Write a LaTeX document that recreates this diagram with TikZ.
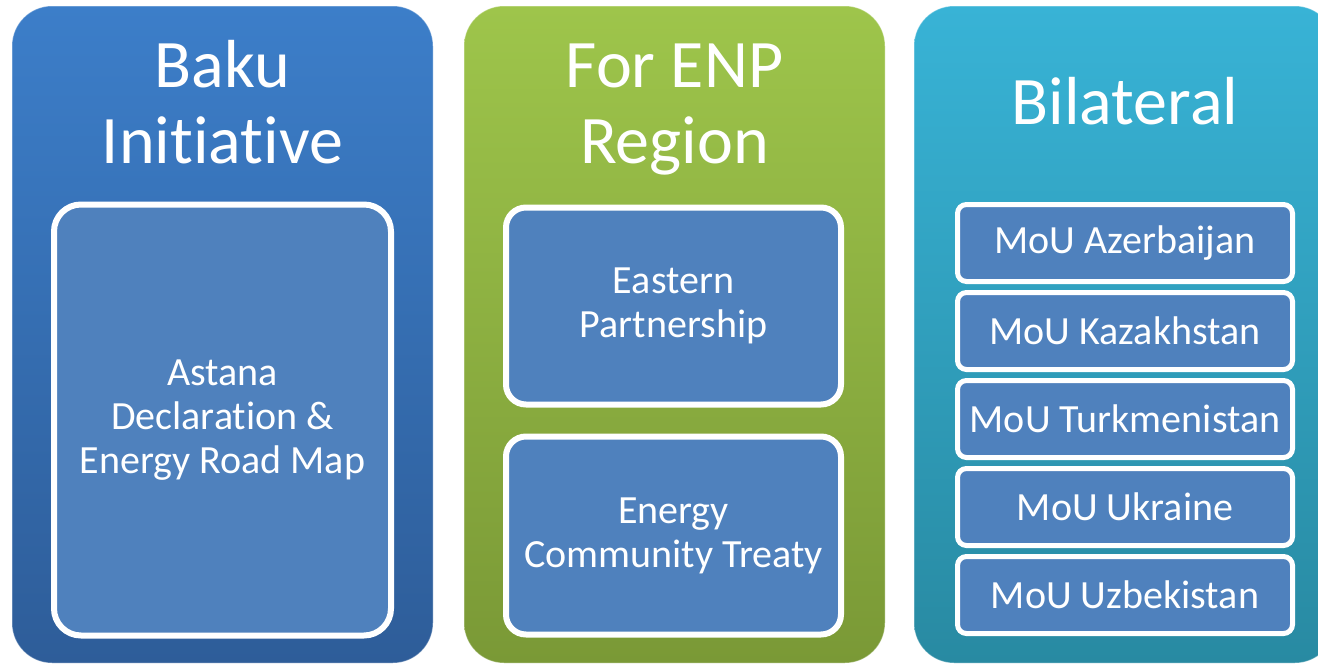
\documentclass[tikz,border=0pt]{standalone}
\usepackage{fontspec}
\setmainfont{Carlito}[Ligatures=NoCommon]
\usetikzlibrary{positioning}
\definecolor{bkT}{HTML}{3C7EC9}
\definecolor{bkB}{HTML}{2E5D99}
\definecolor{enT}{HTML}{9EC54B}
\definecolor{enB}{HTML}{7A9936}
\definecolor{biT}{HTML}{38B3D6}
\definecolor{biB}{HTML}{288AA2}
\definecolor{itm}{HTML}{4F81BD}
\tikzstyle{column} = [rectangle, rounded corners=40pt, minimum width=421pt, minimum height=657pt, inner sep=0pt, draw=white, draw opacity=0.35, line width=1pt]
\tikzstyle{title} = [text=white, align=center, anchor=base, font=\fontsize{68}{76}\selectfont]
\tikzstyle{item} = [rectangle, fill=itm, draw=white, line width=6pt, text=white, align=center, inner sep=0pt, font=\fontsize{40}{44}\selectfont]
\tikzstyle{mou} = [item, rounded corners=9pt, line width=5pt, minimum width=335pt, minimum height=77pt]

\begin{document}
\begin{tikzpicture}[x=1pt,y=-1pt]
	\clip (0,0) rectangle (1318,664);
	% the three columns
	\node[column, top color=bkT, bottom color=bkB] (baku) at (222.5,334.5) {};
	\node[column, top color=enT, bottom color=enB] (enp) at (674.5,334.5) {};
	\node[column, top color=biT, bottom color=biB] (bil) at (1124.5,334.5) {};
	% headings
	\node[title] (bakuT) at (222.5,163) {Baku\\Initiative};
	\node[title] (enpT) at (674.5,163) {For ENP\\Region};
	\node[title] (bilT) at (1125,124) {Bilateral};
	% boxes
	\node[item, rounded corners=27pt, minimum width=337pt, minimum height=431pt] (astana) at (222.5,420) {Astana\\Declaration \&\\Energy Road Map};
	\node[item, rounded corners=20pt, minimum width=335pt, minimum height=197pt] (eap) at (673.5,306) {Eastern\\Partnership};
	\node[item, rounded corners=20pt, minimum width=335pt, minimum height=198pt] (ect) at (673.5,535.5) {Energy\\Community Treaty};
	\foreach \n/\c [count=\i] in {aze/Azerbaijan, kaz/Kazakhstan, tkm/Turkmenistan, ukr/Ukraine, uzb/Uzbekistan}
		\node[mou] (\n) at (1125,{155+88*\i}) {MoU \c};
\end{tikzpicture}
\end{document}
